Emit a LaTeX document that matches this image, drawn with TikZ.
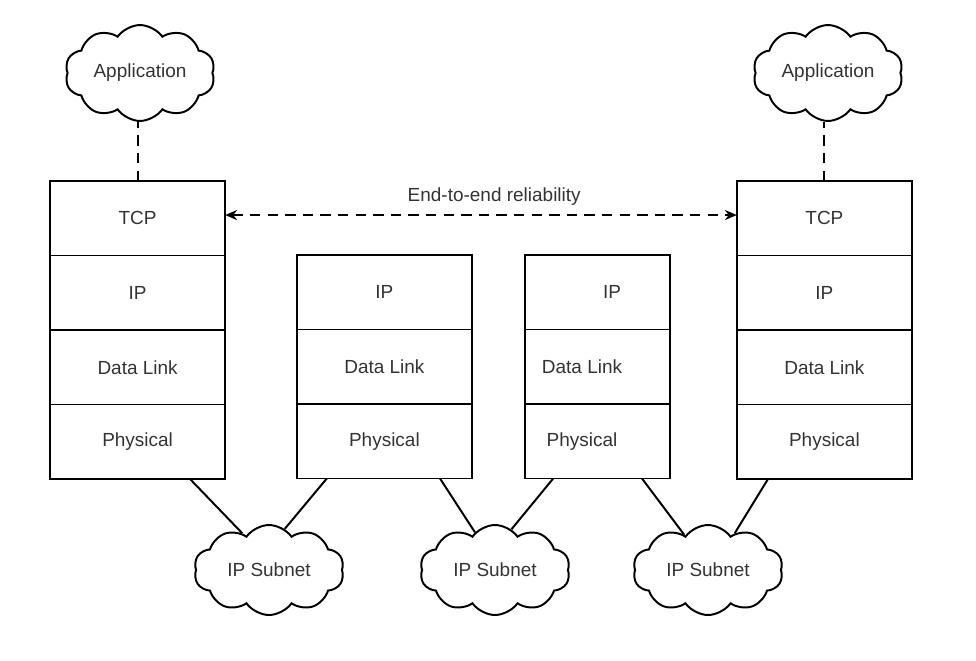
\documentclass[tikz,border=0pt]{standalone}
\usepackage{fontspec}
\setmainfont{Liberation Sans}
\usetikzlibrary{calc,  positioning,  shapes.symbols,  arrows.meta}

\begin{document}
\begin{tikzpicture}[
          layer/.style={draw,  rectangle,  line width=1.4pt,  minimum width=4.375cm,  minimum height=1.8625cm,  outer sep=0pt,  inner sep=0pt,  font=\fontsize{13.5}{16}\selectfont,  text=black!80},
          thinlayer/.style={layer,  minimum width=3.625cm},
          puff/.style={draw,  cloud,  cloud puffs=10,  cloud puff arc=110,  aspect=1.67,  line width=1.4pt,  minimum width=3.75cm,  minimum height=2.25cm,  inner sep=0pt,  font=\fontsize{13.5}{16}\selectfont,  text=black!80},
          link/.style={line width=1.4pt},
          dashlink/.style={line width=1.4pt,  dash pattern=on 0.26cm off 0.18cm}
      ]
          \useasboundingbox (0, 0) rectangle (24.4, -16.5);
          % end hosts and routers
          \node[layer] (tcp1) at (3.44, -5.456) {TCP};
          \node[layer,  below=0pt of tcp1] (ip1) {IP};
          \node[layer,  below=0pt of ip1] (dl1) {Data Link};
          \node[layer,  below=0pt of dl1] (phy1) {Physical};
          \node[layer] (ip2) at (9.61, -7.306) {IP};
          \node[layer,  below=0pt of ip2] (dl2) {Data Link};
          \node[layer,  below=0pt of dl2] (phy2) {Physical};
          \node[thinlayer] (ip3) at (14.94, -7.306) {\hspace*{0.72cm}IP};
          \node[thinlayer,  below=0pt of ip3] (dl3) {Data Link\hspace*{0.78cm}};
          \node[thinlayer,  below=0pt of dl3] (phy3) {Physical\hspace*{0.78cm}};
          \node[layer] (tcp4) at (20.61, -5.456) {TCP};
          \node[layer,  below=0pt of tcp4] (ip4) {IP};
          \node[layer,  below=0pt of ip4] (dl4) {Data Link};
          \node[layer,  below=0pt of dl4] (phy4) {Physical};
          % clouds
          \node[puff] (app1) at (3.5, -1.825) {Application};
          \node[puff] (app4) at (20.7, -1.825) {Application};
          \node[puff] (sub1) at (6.725, -14.25) {IP Subnet};
          \node[puff] (sub2) at (12.375, -14.25) {IP Subnet};
          \node[puff] (sub3) at (17.7, -14.25) {IP Subnet};
          \draw[dashlink]  (tcp1.north) -- (tcp1.north |- app1.south);
          \draw[dashlink]  (tcp4.north) -- (tcp4.north |- app4.south);
          \draw[dashlink,  {Stealth[length=0.3cm, width=0.25cm]}-{Stealth[length=0.3cm, width=0.25cm]}]  ([yshift=0.08cm]tcp1.east) -- ([yshift=0.08cm]tcp4.west) node[midway,  above=0.1cm,  xshift=0.33cm,  font=\fontsize{13.5}{16}\selectfont,  text=black!80] (e2e) {End-to-end reliability};
          \draw[link]  ([xshift=1.31cm]phy1.south) -- (sub1.126);
          \draw[link]  ([xshift=-1.44cm]phy2.south) -- (sub1.69);
          \draw[link]  ([xshift=1.39cm]phy2.south) -- (sub2.118);
          \draw[link]  ([xshift=-1.11cm]phy3.south) -- (sub2.68);
          \draw[link]  ([xshift=1.11cm]phy3.south) -- (sub3.124);
          \draw[link]  ([xshift=-1.41cm]phy4.south) -- (sub3.54);
      \end{tikzpicture}
\end{document}
